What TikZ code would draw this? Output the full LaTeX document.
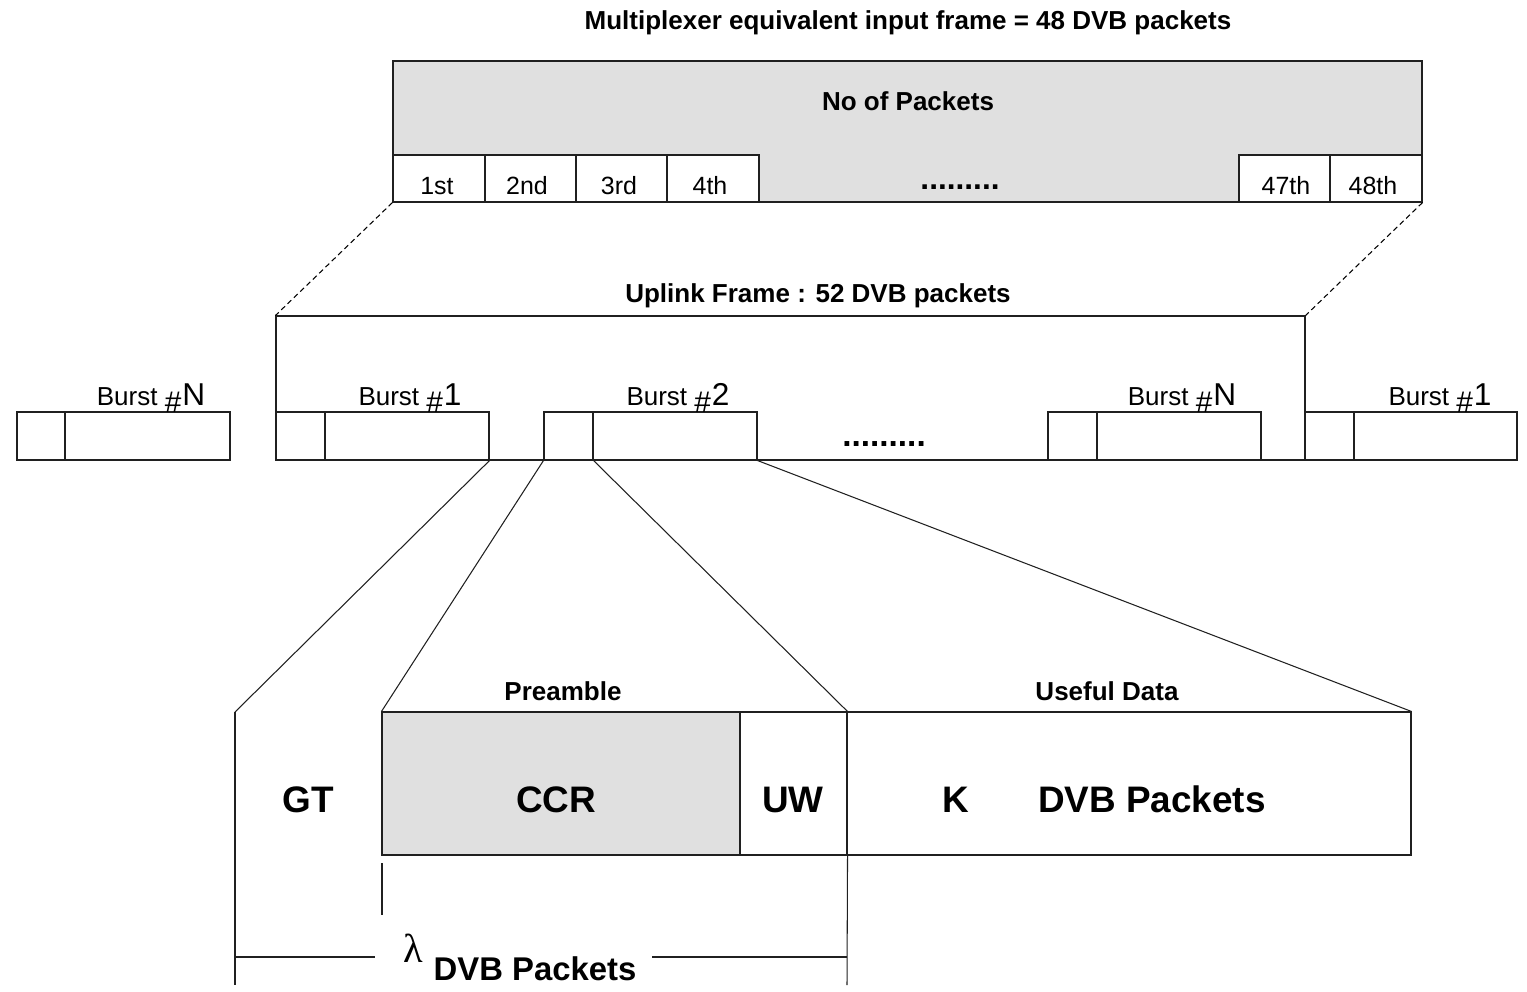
\documentclass[tikz,border=0pt]{standalone}
\usepackage{fontspec}
\setmainfont{Liberation Sans}
\newfontfamily\lamfont{Liberation Serif}
\usetikzlibrary{fit}
\definecolor{gfill}{HTML}{E0E0E0}
\definecolor{lcol}{HTML}{202020}
\begin{document}
\begin{tikzpicture}[x=0.02cm,y=-0.02cm,
  bl/.style={font=\fontsize{14.8}{17}\selectfont\bfseries, inner sep=0, anchor=base},
  rg/.style={font=\fontsize{14.2}{17}\selectfont, inner sep=0, anchor=base},
  bg/.style={font=\fontsize{21}{24}\selectfont\bfseries, inner sep=0, anchor=base},
  dots/.style={font=\fontsize{18}{20}\selectfont\bfseries, inner sep=0, anchor=base},
  ln/.style={line width=0.6pt, draw=lcol},
  boxx/.style={ln, inner sep=0, fill=white},
  gbox/.style={ln, inner sep=0, fill=gfill},
  dsh/.style={line width=0.6pt, dash pattern=on 3pt off 2pt}]

\useasboundingbox (0,0) rectangle (1527,991);

% ---------- multiplexer frame ----------
\node[bl] (title) at (908,29) {Multiplexer equivalent input frame = 48 DVB packets};
\node[gbox, fit={(393,61)(1422,202)}] (mux) {};
\node[bl] (nop) at (908,110) {No of Packets};
\node[boxx, fit={(393,155)(485,202)}] (c1) {};
\node[boxx, fit={(485,155)(576,202)}] (c2) {};
\node[boxx, fit={(576,155)(667,202)}] (c3) {};
\node[boxx, fit={(667,155)(759,202)}] (c4) {};
\node[boxx, fit={(1239,155)(1330,202)}] (c47) {};
\node[boxx, fit={(1330,155)(1422,202)}] (c48) {};
\node[rg] (t1) at (437,194) {1st};
\node[rg] (t2) at (527,194) {2nd};
\node[rg] (t3) at (619,194) {3rd};
\node[rg] (t4) at (710,194) {4th};
\node[rg] (t47) at (1286,194) {47th};
\node[rg] (t48) at (1373,194) {48th};
\node[dots] (mdots) at (960,189) {.........};

% ---------- uplink frame ----------
\node[bl] (ultitle) at (818,302) {Uplink Frame : 52 DVB packets};
\node[ln, inner sep=0, fit={(276,316)(1305,460)}] (frame) {};
\draw[dsh] (mux.south west) -- (frame.north west);
\draw[dsh] (mux.south east) -- (frame.north east);

\newcommand{\burstlbl}[1]{Burst \raisebox{-0.55ex}{\fontsize{17}{19}\selectfont\#}\kern0.5pt\fontsize{18}{20}\selectfont #1}

% left Burst #N
\node[boxx, fit={(17,412)(65,460)}] (bnLh) {};
\node[boxx, fit={(65,412)(230,460)}] (bnLd) {};
\node[rg, font=\fontsize{14.8}{17}\selectfont] (bnLt) at (151,405) {\burstlbl{N}};
% Burst #1
\node[boxx, fit={(276,412)(325,460)}] (b1h) {};
\node[boxx, fit={(325,412)(489,460)}] (b1d) {};
\node[rg, font=\fontsize{14.8}{17}\selectfont] (b1t) at (410,405) {\burstlbl{1}};
% Burst #2
\node[boxx, fit={(544,412)(593,460)}] (b2h) {};
\node[boxx, fit={(593,412)(757,460)}] (b2d) {};
\node[rg, font=\fontsize{14.8}{17}\selectfont] (b2t) at (678,405) {\burstlbl{2}};
% Burst #N
\node[boxx, fit={(1048,412)(1097,460)}] (bnh) {};
\node[boxx, fit={(1097,412)(1261,460)}] (bnd) {};
\node[rg, font=\fontsize{14.8}{17}\selectfont] (bnt) at (1182,405) {\burstlbl{N}};
% right Burst #1
\node[boxx, fit={(1305,412)(1354,460)}] (b1Rh) {};
\node[boxx, fit={(1354,412)(1517,460)}] (b1Rd) {};
\node[rg, font=\fontsize{14.8}{17}\selectfont] (b1Rt) at (1440,405) {\burstlbl{1}};

\node[dots, font=\fontsize{19}{20}\selectfont\bfseries] (udots) at (884,446) {.........};

% ---------- burst detail ----------
\coordinate (gttop) at (235,712);
\coordinate (gtbot) at (235,985);
\node[gbox, fit={(382,712)(740,855)}] (ccr) {};
\node[boxx, fit={(740,712)(847,855)}] (uw) {};
\node[boxx, fit={(847,712)(1411,855)}] (ud) {};
\node[bl] (pre) at (563,700) {Preamble};
\node[bl] (udt) at (1107,700) {Useful Data};
\node[bg] (gt) at (308,812) {GT};
\node[bg] (ccrt) at (556,812) {CCR};
\node[bg] (uwt) at (793,812) {UW};
\node[bg] (kt) at (956,812) {K};
\node[bg] (dvbt) at (1152,812) {DVB Packets};

\draw[ln] (b1d.south east) -- (gttop);
\draw[ln] (b2h.south west) -- (ccr.north west);
\draw[ln] (b2h.south east) -- (uw.north east);
\draw[ln] (b2d.south east) -- (ud.north east);

\draw[ln] (gttop) -- (gtbot);
\coordinate (uwbot) at (847,985);
\draw[ln] (uw.south east) -- (uwbot);
\coordinate (tk1) at (382,863);
\coordinate (tk2) at (382,915);
\draw[ln] (tk1) -- (tk2);

\node[inner sep=0, anchor=base, font=\fontsize{23}{25}\selectfont\lamfont] (lam) at (413,962) {λ};
\node[inner sep=0, anchor=base, font=\fontsize{18.7}{21}\selectfont\bfseries] (lamdvb) at (535,980) {DVB Packets};
\coordinate (mL) at (235,957);
\coordinate (mLe) at (375,957);
\coordinate (mRs) at (652,957);
\coordinate (mR) at (847,957);
\draw[ln] (mL) -- (mLe);
\draw[ln] (mRs) -- (mR);
\end{tikzpicture}
\end{document}
